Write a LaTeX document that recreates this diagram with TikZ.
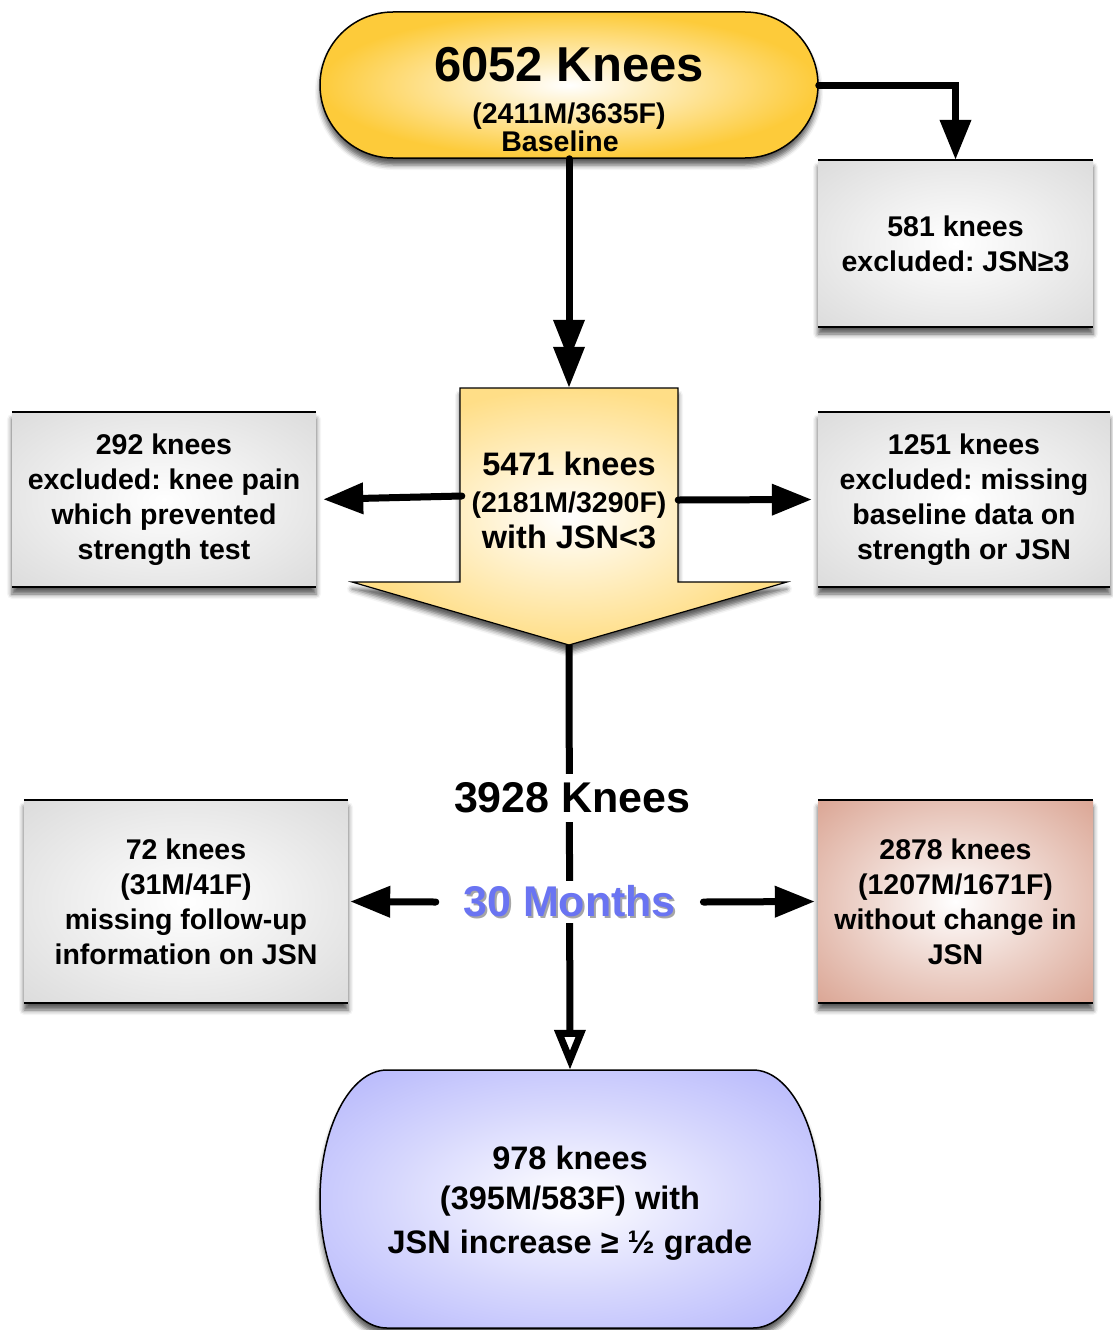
\documentclass[tikz,border=0pt]{standalone}
\usepackage{fontspec}
\setmainfont{Liberation Sans}
\usetikzlibrary{arrows.meta,shadows.blur,calc}
\definecolor{yelO}{RGB}{253,203,58}
\definecolor{yelB}{RGB}{255,222,135}
\definecolor{gryO}{RGB}{192,192,192}
\definecolor{redO}{RGB}{196,110,82}
\definecolor{bluO}{RGB}{142,144,250}
\definecolor{monthC}{RGB}{106,116,242}
\newcommand\myfs[2]{\fontsize{#1}{#2}\selectfont}
\pgfdeclareradialshading{shgray}{\pgfpoint{0bp}{0bp}}{color(0bp)=(white); color(18bp)=(gryO!28!white); color(38bp)=(gryO!60!white); color(50bp)=(gryO); color(80bp)=(gryO)}
\pgfdeclareradialshading{shred}{\pgfpoint{0bp}{0bp}}{color(0bp)=(white); color(18bp)=(redO!32!white); color(38bp)=(redO!66!white); color(50bp)=(redO); color(80bp)=(redO)}
\pgfdeclareradialshading{shblue}{\pgfpoint{0bp}{0bp}}{color(0bp)=(white); color(18bp)=(bluO!36!white); color(38bp)=(bluO!72!white); color(50bp)=(bluO); color(80bp)=(bluO)}
\tikzset{
  shad/.style={blur shadow={shadow xshift=0pt,shadow yshift=-7pt,shadow blur radius=5pt,shadow opacity=65}},
  xbox/.style={shad, shading=shgray, inner sep=0pt, align=center, font=\bfseries\myfs{28.5}{35}},
  rbox/.style={xbox, shading=shred},
  rim/.style={line width=2.4pt, black},
  conn/.style={line width=7pt, line cap=round, draw=black},
  tip/.style={-{Triangle[length=40pt,width=30pt,color=black,fill=black]}},
}
\begin{document}
\frenchspacing
\begin{tikzpicture}[x=1pt,y=-1pt]
\useasboundingbox (0,0) rectangle (1112,1330);
% top stadium
\node[shad, shade, inner color=white, outer color=yelO, draw=black, line width=1.5pt,
      rounded corners=73pt, minimum width=498pt, minimum height=146pt, inner sep=0pt,
      align=center, font=\bfseries\myfs{28.5}{26}, text height=132pt, text depth=0pt]
  (top) at (569,85) {{\myfs{49}{52}6052 Knees}\\[16pt](2411M/3635F)\\Baseline\hspace*{18pt}};
% big arrow shape and text
\coordinate (bigtip) at (569,645);
\path[shad, shade, inner color=white, outer color=yelB, draw=black, line width=1.2pt]
  (460,388) -- (678,388) -- (678,582) -- (787,582) -- (569,645) -- (352,582) -- (460,582) -- cycle;
\node[inner sep=0pt, minimum width=218pt, minimum height=194pt, align=center,
      font=\bfseries\myfs{32.5}{36.5}, text height=127pt, text depth=0pt]
  (big) at (569,485) {5471 knees\\{\myfs{28.5}{36.5}(2181M/3290F)}\\with JSN<3};
% side boxes
\node[xbox, minimum width=275pt, minimum height=167pt] (b581) at (955.5,243.5)
  {581 knees\\excluded: JSN≥3};
\node[xbox, minimum width=304pt, minimum height=175pt] (b292) at (164,499.5)
  {292 knees\\excluded: knee pain\\which prevented\\strength test};
\node[xbox, minimum width=292pt, minimum height=175pt] (b1251) at (964,499.5)
  {1251 knees\\excluded: missing\\baseline data on\\strength or JSN};
\node[xbox, minimum width=324pt, minimum height=203pt] (b72) at (186,901.5)
  {72 knees\\(31M/41F)\\missing follow-up\\information on JSN};
\node[rbox, minimum width=275pt, minimum height=203pt] (b2878) at (955.5,901.5)
  {2878 knees\\(1207M/1671F)\\without change in\\JSN};
\foreach \n in {b581,b292,b1251,b72,b2878}
  \draw[rim] (\n.north west) -- (\n.north east) (\n.south west) -- (\n.south east);
% bottom stadium
\path[shad, shading=shblue, draw=black, line width=1.5pt]
  (387,1070) -- (753,1070) .. controls (790,1070) and (820,1128) .. (820,1199)
  .. controls (820,1270) and (790,1328) .. (753,1328) -- (387,1328)
  .. controls (350,1328) and (320,1270) .. (320,1199)
  .. controls (320,1128) and (350,1070) .. (387,1070) -- cycle;
\node[inner sep=0pt, minimum width=500pt, minimum height=258pt, align=center,
      font=\bfseries\myfs{32.5}{40}, text height=120pt, text depth=12pt] (bot) at (570,1199)
  {978 knees\\(395M/583F) with\\[4pt]JSN increase ≥ ½ grade};
% connectors
\draw[conn, tip] (top.east) -| (b581.north);
\draw[conn, -{Triangle[length=41pt,width=30pt,sep=-14pt,color=black,fill=black]Triangle[length=41pt,width=30pt,color=black,fill=black]}]
  (top.south) -- (big.north);
\draw[conn, tip, shorten >=7pt] ($(big.west)+(2,11)$) -- (b292.east);
\draw[conn, tip, shorten >=6pt] ($(big.east)+(0,15)$) -- (b1251.west);
\draw[line width=7pt, draw=black, -{Triangle[open,length=40pt,width=30pt,color=black,fill=white]}] (bigtip) --
  node[pos=0.36, fill=white, inner xsep=2pt, inner ysep=9pt, xshift=3pt,
       font=\bfseries\myfs{43}{43}] (k3928) {3928 Knees}
  node[pos=0.605, fill=white, inner xsep=24pt, inner ysep=4pt, text=monthC,
       font=\bfseries\myfs{43}{43}] (months)
       {\makebox[0pt][l]{\hspace*{2pt}\raisebox{-2pt}{\color{black!35}30 Months}}30 Months}
  (bot.north);
\draw[conn, tip, shorten >=2pt] (months.west) -- (b72.east);
\draw[conn, tip, shorten >=3pt] (months.east) -- (b2878.west);
\end{tikzpicture}
\end{document}
